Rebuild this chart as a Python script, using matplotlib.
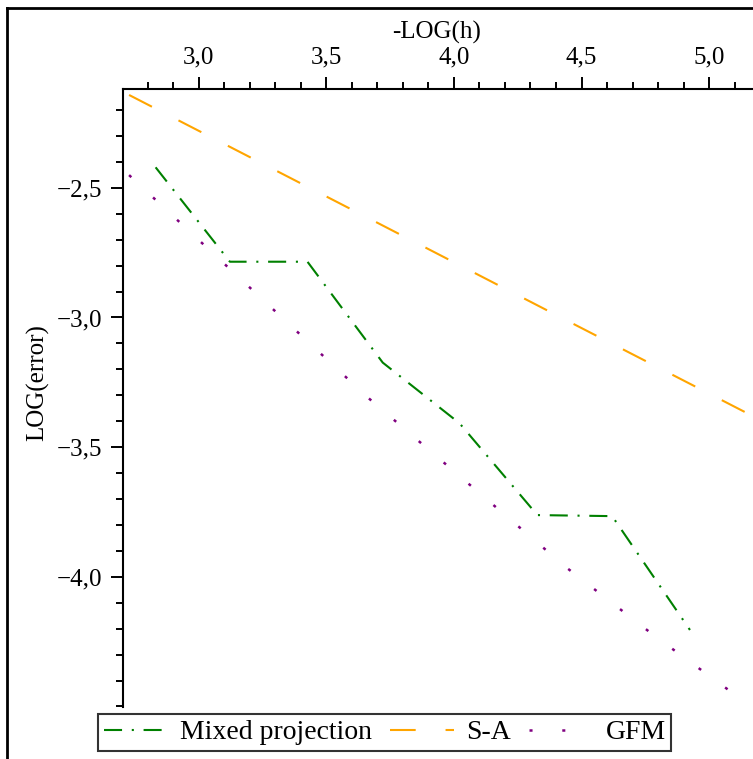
import matplotlib
matplotlib.use("Agg")
import matplotlib.pyplot as plt
from matplotlib.lines import Line2D
from matplotlib.ticker import FixedLocator, MultipleLocator

# values (x = -LOG(h), y = LOG(error))
mixed_x = [2.831, 3.122, 3.426, 3.721, 4.022, 4.327, 4.620, 4.925]
mixed_y = [-2.421, -2.785, -2.785, -3.174, -3.408, -3.762, -3.766, -4.205]

sa_x = [2.727, 3.663, 4.443, 5.141]
sa_y = [-2.142, -2.616, -3.012, -3.365]

gfm_x = [2.727, 3.663, 4.443, 4.788, 5.141]
gfm_y = [-2.451, -3.309, -3.966, -4.229, -4.483]

x_ticks = [3.0, 3.5, 4.0, 4.5, 5.0]
y_ticks = [-2.5, -3.0, -3.5, -4.0]

plt.rcParams['font.family'] = ['Liberation Serif', 'DejaVu Serif']
plt.rcParams['lines.scale_dashes'] = False

W, H = 753, 759
fig = plt.figure(figsize=(W / 100, H / 100), dpi=100)

# axes box in pixels: left 122.7, top 89, bottom 707, right edge of image
left, top, bottom, right = 122.7, 89, 707, 753
ax = fig.add_axes([left / W, 1 - bottom / H, (right - left) / W, (bottom - top) / H])

lw = 1.5
ax.plot(mixed_x, mixed_y, color='green', lw=lw, dashes=(13, 7, 1.5, 7),
        label='Mixed projection')
ax.plot(sa_x, sa_y, color='orange', lw=lw, dashes=(18.5, 21.5), label='S-A')
ax.plot(gfm_x, gfm_y, color='purple', lw=1.8, dashes=(2.2, 21.4), label='GFM')

ax.set_xlim(2.702, 5.172)
ax.set_ylim(-4.502, -2.119)

for s in ('bottom', 'right'):
    ax.spines[s].set_visible(False)
for s in ('top', 'left'):
    ax.spines[s].set_linewidth(1.5)

ax.xaxis.tick_top()
ax.xaxis.set_major_locator(FixedLocator(x_ticks))
ax.xaxis.set_minor_locator(MultipleLocator(0.1))
ax.yaxis.set_major_locator(FixedLocator(y_ticks))
ax.yaxis.set_minor_locator(MultipleLocator(0.1))
ax.set_xticklabels([f"{v:.1f}".replace('.', ',') for v in x_ticks])
ax.set_yticklabels([f"\u2212{abs(v):.1f}".replace('.', ',') for v in y_ticks])

ax.tick_params(which='major', length=8.5, width=1.4, labelsize=18, pad=6)
ax.tick_params(which='minor', length=4.7, width=1.4)
ax.tick_params(axis='x', which='both', top=True, bottom=False, direction='out')

fig.text(437 / W, 1 - 32 / H, '-LOG(h)', fontsize=18, ha='center', va='center')
fig.text(38 / W, 1 - 383 / H, 'LOG(error)', fontsize=18, ha='center', va='center',
         rotation=90)

# outer frame (left and top edges of the original window)
fig.add_artist(Line2D([7 / W, 7 / W], [0, 1 - 8 / H], color='black', lw=2,
                      transform=fig.transFigure))
fig.add_artist(Line2D([7 / W, 1], [1 - 8 / H, 1 - 8 / H], color='black', lw=2,
                      transform=fig.transFigure))

leg = fig.legend(loc='lower left', bbox_to_anchor=(98 / W, 1 - 751 / H), ncol=3,
                 fontsize=20, frameon=True, fancybox=False, borderaxespad=0,
                 handlelength=2.3, handletextpad=0.45, columnspacing=0.65,
                 borderpad=0.2)
leg.get_frame().set_edgecolor('black')
leg.get_frame().set_linewidth(1.5)

fig.savefig('out.png', dpi=100)
